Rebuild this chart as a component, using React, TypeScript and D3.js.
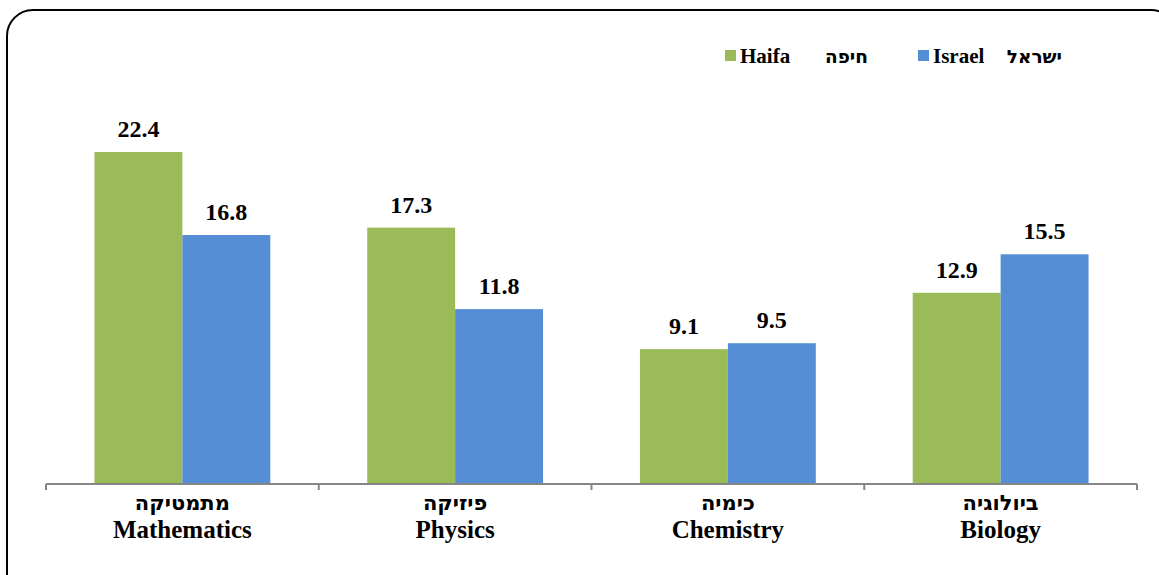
import React from "react";
import * as d3 from "d3";

const categoriesHe = ["מתמטיקה", "פיזיקה", "כימיה", "ביולוגיה"];
const categoriesEn = ["Mathematics", "Physics", "Chemistry", "Biology"];
const haifa = [22.4, 17.3, 9.1, 12.9];
const israel = [16.8, 11.8, 9.5, 15.5];
const seriesNames = [
  { en: "Haifa", he: "חיפה", color: "#9BBB59" },
  { en: "Israel", he: "ישראל", color: "#558ED5" },
];

const W = 1159;
const H = 575;
const FONT = "'Liberation Serif', 'Times New Roman', serif";
const HEFONT = "'DejaVu Sans', 'Liberation Serif', sans-serif";

export default function App() {
  const x0 = d3.scaleBand().domain(categoriesEn).range([46, 1137]).paddingInner(0).paddingOuter(0);
  const inner = d3
    .scaleBand()
    .domain(["Haifa", "Israel"])
    .range([0, x0.bandwidth()])
    .paddingInner(0)
    .paddingOuter(0.551);
  const y = d3.scaleLinear().domain([0, 25]).range([484, 113.5]);
  const series = [haifa, israel];

  return (
    <svg width={W} height={H} style={{ position: "absolute", left: 0, top: 0 }}>
      <rect x={0} y={0} width={W} height={H} fill="#fff" />
      <rect x={7} y={10} width={1170} height={600} rx={26} ry={26} fill="#fff" stroke="#000" strokeWidth={2} />
      {/* bars */}
      {categoriesEn.map((c, i) => (
        <g key={c}>
          {series.map((s, j) => {
            const bx = (x0(c) as number) + (inner(seriesNames[j].en) as number);
            const bw = inner.bandwidth();
            return (
              <g key={j}>
                <rect x={bx} y={y(s[i])} width={bw} height={y(0) - y(s[i])} fill={seriesNames[j].color} />
                <text
                  x={bx + bw / 2}
                  y={y(s[i]) - 15}
                  textAnchor="middle"
                  fontFamily={FONT}
                  fontWeight="bold"
                  fontSize={24}
                  fill="#000"
                >
                  {s[i].toFixed(1)}
                </text>
              </g>
            );
          })}
        </g>
      ))}
      {/* axis */}
      <line x1={46} x2={1137} y1={y(0)} y2={y(0)} stroke="#868686" strokeWidth={2} />
      {[...categoriesEn.map((c) => x0(c) as number), 1137].map((t, i) => (
        <line key={i} x1={t} x2={t} y1={y(0)} y2={y(0) + 6} stroke="#868686" strokeWidth={2} />
      ))}
      {categoriesEn.map((c, i) => {
        const cx = (x0(c) as number) + x0.bandwidth() / 2;
        return (
          <g key={c} fontWeight="bold" fill="#000" textAnchor="middle">
            <text x={cx} y={510} fontFamily={HEFONT} fontSize={21}>{categoriesHe[i]}</text>
            <text x={cx} y={538} fontFamily={FONT} fontSize={25}>{c}</text>
          </g>
        );
      })}
      {/* legend */}
      {seriesNames.map((s, i) => {
        const lx = [725, 918][i];
        const hx = [868, 1062][i];
        return (
          <g key={s.en} fontWeight="bold" fill="#000">
            <rect x={lx} y={50} width={11} height={11} fill={s.color} />
            <text x={lx + 15} y={63} fontFamily={FONT} fontSize={21}>{s.en}</text>
            <text x={hx} y={63} textAnchor="end" fontFamily={HEFONT} fontSize={18.5}>{s.he}</text>
          </g>
        );
      })}
    </svg>
  );
}
